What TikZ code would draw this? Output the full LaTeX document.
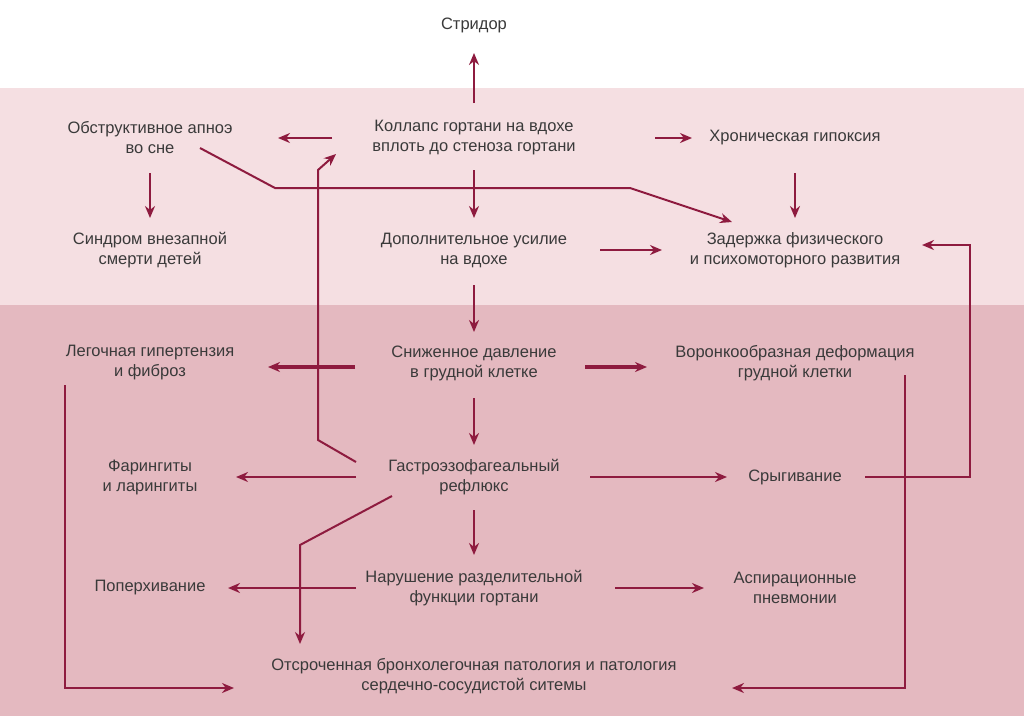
\documentclass[tikz,border=0pt]{standalone}
\usepackage{fontspec}
\setmainfont{Liberation Sans}
\usetikzlibrary{arrows.meta}
\definecolor{arr}{HTML}{8E1B3F}
\definecolor{pinkA}{HTML}{F5DFE2}
\definecolor{pinkB}{HTML}{E4B9C0}
\definecolor{txt}{HTML}{3A3A3A}
\begin{document}
\begin{tikzpicture}[x=1pt,y=-1pt,
  lbl/.style={text=txt,align=center,font=\fontsize{16.5}{20}\selectfont},
  ar/.style={draw=arr,line width=2pt,-{Stealth[length=12pt,width=10pt]}},
  tk/.style={ar,line width=3.2pt}]
\useasboundingbox (0,0) rectangle (1024,716);
\fill[white] (0,0) rectangle (1024,88);
\fill[pinkA] (0,88) rectangle (1024,305);
\fill[pinkB] (0,305) rectangle (1024,716);
\node[lbl] (str) at (474,25) {Стридор};
\node[lbl] (obs) at (150,138) {Обструктивное апноэ\\во сне};
\node[lbl] (col) at (474,138) {Коллапс гортани на вдохе\\вплоть до стеноза гортани};
\node[lbl] (hro) at (795,138) {Хроническая гипоксия};
\node[lbl] (svd) at (150,250) {Синдром внезапной\\смерти детей};
\node[lbl] (dop) at (474,250) {Дополнительное усилие\\на вдохе};
\node[lbl] (zad) at (795,250) {Задержка физического\\и психомоторного развития};
\node[lbl] (leg) at (150,363) {Легочная гипертензия\\и фиброз};
\node[lbl] (sni) at (474,363) {Сниженное давление\\в грудной клетке};
\node[lbl] (vor) at (795,363) {Воронкообразная деформация\\грудной клетки};
\node[lbl] (far) at (150,477) {Фарингиты\\и ларингиты};
\node[lbl] (gas) at (474,477) {Гастроэзофагеальный\\рефлюкс};
\node[lbl] (sry) at (795,477) {Срыгивание};
\node[lbl] (pop) at (150,588) {Поперхивание};
\node[lbl] (nar) at (474,588) {Нарушение разделительной\\функции гортани};
\node[lbl] (asp) at (795,588) {Аспирационные\\пневмонии};
\node[lbl] (ots) at (474,676) {Отсроченная бронхолегочная патология и патология\\сердечно-сосудистой ситемы};
\coordinate (c1) at (275,188); \coordinate (c2) at (630,188);
\coordinate (g1) at (318,440); \coordinate (g2) at (318,170);
\coordinate (s1) at (970,477); \coordinate (s2) at (970,245);
\coordinate (o1) at (300,545);
\coordinate (l1) at (65,688); \coordinate (v1) at (905,688);
\draw[ar] (474,103) -- (474,53);
\draw[ar] (332,138) -- (278,138);
\draw[ar] (655,138) -- (692,138);
\draw[ar] (150,173) -- (150,218);
\draw[ar] (474,170) -- (474,218);
\draw[ar] (795,173) -- (795,218);
\draw[ar] (200,148) -- (c1) -- (c2) -- (732,222);
\draw[ar] (600,250) -- (662,250);
\draw[ar] (474,285) -- (474,332);
\draw[tk] (355,367) -- (268,367);
\draw[tk] (585,367) -- (647,367);
\draw[ar] (474,398) -- (474,445);
\draw[ar] (356,462) -- (g1) -- (g2) -- (336,154);
\draw[ar] (356,477) -- (236,477);
\draw[ar] (590,477) -- (727,477);
\draw[ar] (865,477) -- (s1) -- (s2) -- (922,245);
\draw[ar] (392,496) -- (o1) -- (300,644);
\draw[ar] (474,510) -- (474,555);
\draw[ar] (356,588) -- (228,588);
\draw[ar] (615,588) -- (704,588);
\draw[ar] (65,385) -- (l1) -- (234,688);
\draw[ar] (905,375) -- (v1) -- (732,688);
\end{tikzpicture}
\end{document}
